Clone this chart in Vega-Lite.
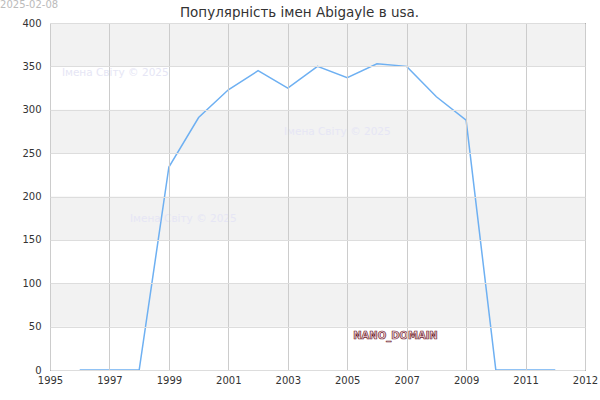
{
  "$schema": "https://vega.github.io/schema/vega-lite/v6.json",
  "autosize": "none",
  "width": 535,
  "height": 347,
  "padding": {"left": 50, "top": 23, "right": 15, "bottom": 30},
  "title": {
    "text": "Популярність імен Abigayle в usa.",
    "font": "DejaVu Sans",
    "fontSize": 13.5,
    "fontWeight": "normal",
    "color": "#333333",
    "anchor": "middle",
    "dx": -18,
    "dy": 19,
    "offset": 0
  },
  "config": {
    "font": "DejaVu Sans",
    "view": {"stroke": "black", "strokeWidth": 1}
  },
  "datasets": {
    "series": [
      {"year": 1996, "count": 0},
      {"year": 1997, "count": 0},
      {"year": 1998, "count": 0},
      {"year": 1999, "count": 234},
      {"year": 2000, "count": 291},
      {"year": 2001, "count": 323},
      {"year": 2002, "count": 345},
      {"year": 2003, "count": 325},
      {"year": 2004, "count": 350},
      {"year": 2005, "count": 337},
      {"year": 2006, "count": 353},
      {"year": 2007, "count": 350},
      {"year": 2008, "count": 315},
      {"year": 2009, "count": 288},
      {"year": 2010, "count": 0},
      {"year": 2011, "count": 0},
      {"year": 2012, "count": 0}
    ],
    "bands": [
      {"lo": 50, "hi": 100},
      {"lo": 150, "hi": 200},
      {"lo": 250, "hi": 300},
      {"lo": 350, "hi": 400}
    ],
    "marks": [
      {"label": "Імена Світу © 2025", "year": 1995.4, "count": 342},
      {"label": "Імена Світу © 2025", "year": 2002.87, "count": 274},
      {"label": "Імена Світу © 2025", "year": 1997.69, "count": 174}
    ]
  },
  "encoding": {
    "x": {
      "field": "year",
      "type": "quantitative",
      "title": null,
      "scale": {"domain": [1995, 2013], "nice": false, "zero": false},
      "axis": {
        "values": [1995, 1997, 1999, 2001, 2003, 2005, 2007, 2009, 2011, 2013],
        "labelExpr": "datum.value == 2013 ? '2012' : format(datum.value, 'd')",
        "labelFlush": false,
        "labelOverlap": false,
        "labelFontSize": 10,
        "labelColor": "#333333",
        "labelPadding": 5,
        "ticks": false,
        "domain": false,
        "gridColor": "#cccccc",
        "gridOpacity": 1,
        "zindex": 1
      }
    },
    "y": {
      "field": "count",
      "type": "quantitative",
      "title": null,
      "scale": {"domain": [0, 400], "nice": false},
      "axis": {
        "values": [0, 50, 100, 150, 200, 250, 300, 350, 400],
        "labelFontSize": 10,
        "labelColor": "#333333",
        "labelPadding": 9,
        "ticks": false,
        "domain": false,
        "gridColor": "#dddddd",
        "gridOpacity": 1,
        "zindex": 1
      }
    }
  },
  "layer": [
    {
      "data": {"name": "bands"},
      "mark": {"type": "rect", "color": "#f2f2f2"},
      "encoding": {
        "x": null,
        "y": {"field": "lo", "type": "quantitative"},
        "y2": {"field": "hi"}
      }
    },
    {
      "data": {"name": "series"},
      "mark": {"type": "line", "color": "#6eb0f2", "strokeWidth": 1.5}
    },
    {
      "data": {"name": "marks"},
      "mark": {"type": "text", "align": "left", "baseline": "middle", "fontSize": 10.5, "color": "#e6e6f5"},
      "encoding": {"text": {"field": "label"}}
    },
    {
      "data": {"values": [{"label": "NANO_DOMAIN", "year": 2005.2, "count": 39}]},
      "mark": {"type": "text", "align": "left", "baseline": "middle", "fontSize": 10, "fontWeight": "bold", "fill": "#f3d6dc", "stroke": "#6e1d2c", "strokeWidth": 0.7},
      "encoding": {"text": {"field": "label"}}
    },
    {
      "data": {"values": [{"label": "2025-02-08", "year": 1993.32, "count": 426.5}]},
      "mark": {"type": "text", "align": "left", "baseline": "top", "fontSize": 10, "color": "#bbbbbb", "clip": false},
      "encoding": {"text": {"field": "label"}}
    }
  ]
}
